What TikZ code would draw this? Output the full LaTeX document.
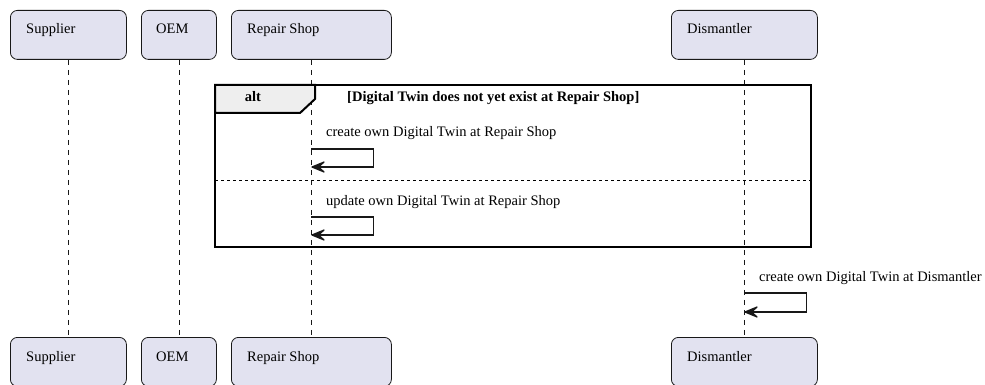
\documentclass[tikz,border=0pt]{standalone}
\usepackage{fontspec}
\setmainfont{Liberation Serif}
\usetikzlibrary{arrows.meta,calc}
\definecolor{boxfill}{HTML}{E2E2F0}
\definecolor{boxline}{HTML}{181818}
\definecolor{tabfill}{HTML}{EEEEEE}
\tikzset{
  partbox/.style={draw=boxline, line width=0.8pt, rounded corners=7pt, fill=boxfill, anchor=north west, minimum height=49pt, inner sep=0pt},
  partlabel/.style={anchor=base west, inner sep=0pt, font=\fontsize{14.5}{17}\selectfont},
  lifeline/.style={draw=boxline, line width=0.7pt, dash pattern=on 5pt off 5pt},
  selfmsg/.style={draw=boxline, line width=1.3pt, -{Stealth[length=17pt,width=14pt,inset=8pt,round]}},
  msglabel/.style={anchor=base west, inner sep=0pt, font=\fontsize{14.5}{17}\selectfont},
  framebox/.style={draw=black, line width=2pt},
}
\begin{document}
\begin{tikzpicture}[x=1pt,y=-1pt]
\useasboundingbox (0,0) rectangle (985,385);
% top participants
\node[partbox, minimum width=116pt] (supT) at (10,10) {};
\node[partbox, minimum width=75pt] (oemT) at (141,10) {};
\node[partbox, minimum width=160pt] (repT) at (231,10) {};
\node[partbox, minimum width=146pt] (disT) at (671,10) {};
% bottom participants
\node[partbox, minimum width=116pt] (supB) at (10,337) {};
\node[partbox, minimum width=75pt] (oemB) at (141,337) {};
\node[partbox, minimum width=160pt] (repB) at (231,337) {};
\node[partbox, minimum width=146pt] (disB) at (671,337) {};
% labels
\node[partlabel] (supTl) at (26,34) {Supplier};
\node[partlabel] (oemTl) at (156,34) {OEM};
\node[partlabel] (repTl) at (247,34) {Repair Shop};
\node[partlabel] (disTl) at (687,34) {Dismantler};
\node[partlabel] (supBl) at (26,361) {Supplier};
\node[partlabel] (oemBl) at (156,361) {OEM};
\node[partlabel] (repBl) at (247,361) {Repair Shop};
\node[partlabel] (disBl) at (687,361) {Dismantler};
% lifelines
\draw[lifeline] (supT.south) -- (supB.north);
\draw[lifeline] (oemT.south) -- (oemB.north);
\draw[lifeline] (repT.south) -- (repB.north);
\draw[lifeline] (disT.south) -- (disB.north);
% alt frame
\coordinate (fNW) at (215,85);
\coordinate (fSE) at (811,247);
\filldraw[fill=tabfill, draw=black, line width=2pt] (215,85) -- (315,85) -- (315,99) -- (300,113) -- (215,113) -- cycle;
\draw[framebox] (fNW) rectangle (fSE);
\node[anchor=base, inner sep=0pt, font=\fontsize{14.5}{17}\bfseries\selectfont] (altl) at (253,102) {alt};
\node[anchor=base west, inner sep=0pt, font=\fontsize{14.5}{17}\bfseries\selectfont] (guard) at (347,102) {[Digital Twin does not yet exist at Repair Shop]};
\draw[draw=black, line width=1pt, dash pattern=on 3pt off 3pt] (215,180) -- (811,180);
% self messages
\coordinate (m1a) at (repT.south |- 0,149);
\coordinate (m1b) at (repT.south |- 0,167);
\node[msglabel] (m1l) at (326,137) {create own Digital Twin at Repair Shop};
\draw[selfmsg] (m1a) -- ++(62,0) |- (m1b);
\coordinate (m2a) at (repT.south |- 0,217);
\coordinate (m2b) at (repT.south |- 0,235);
\node[msglabel] (m2l) at (326,205) {update own Digital Twin at Repair Shop};
\draw[selfmsg] (m2a) -- ++(62,0) |- (m2b);
\coordinate (m3a) at (disT.south |- 0,293);
\coordinate (m3b) at (disT.south |- 0,312);
\node[msglabel] (m3l) at (759,281) {create own Digital Twin at Dismantler};
\draw[selfmsg] (m3a) -- ++(62,0) |- (m3b);
\end{tikzpicture}
\end{document}
